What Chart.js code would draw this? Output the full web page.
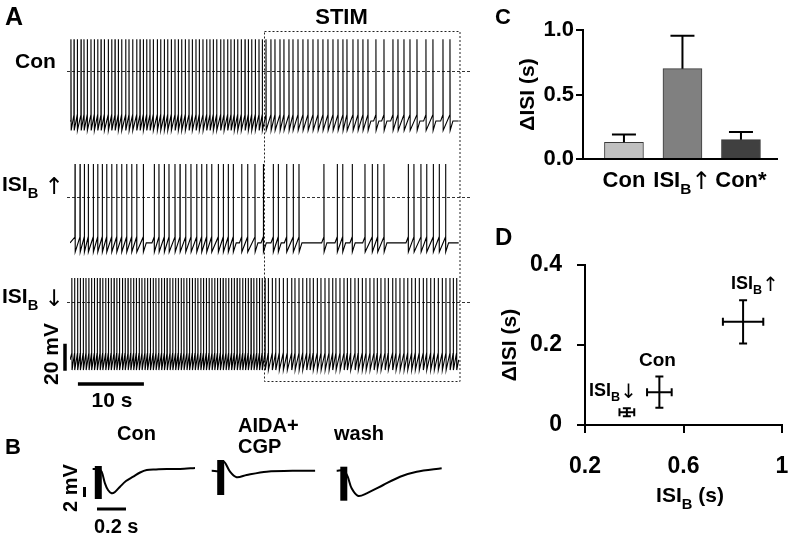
<!DOCTYPE html>
<html><head><meta charset="utf-8">
<script src="https://cdn.jsdelivr.net/npm/chart.js@4"></script>
<style>
html,body{margin:0;padding:0;background:#fff;}
#fig{position:relative;width:810px;height:542px;overflow:hidden;font-family:"Liberation Sans",Arial,Helvetica,sans-serif;font-weight:bold;color:#000;}
#fig canvas{position:absolute;}
.lbl{position:absolute;line-height:1;white-space:nowrap;}
.sub{font-size:0.7em;position:relative;top:0.45em;}
.arr{font-family:"DejaVu Sans",sans-serif;font-weight:normal;font-size:1.1em;position:relative;top:0.1em;}
</style></head>
<body><div id="fig">
<canvas id="cA" width="480" height="420" style="left:0px;top:0px"></canvas>
<canvas id="cB" width="400" height="92" style="left:60px;top:450px"></canvas>
<canvas id="cC" width="340" height="200" style="left:470px;top:0px"></canvas>
<canvas id="cD" width="340" height="322" style="left:470px;top:220px"></canvas>
</div>
<script>
// ---------------- DATA ----------------
// Panel A: spike times (s)
const stimStart = 29.4;
const traceEnd = 58.9;
const conSpikes = [0.15,0.61,1.11,1.67,2.12,2.62,3.18,3.68,4.20,4.70,5.20,5.80,6.32,6.82,7.32,7.83,8.44,8.94,9.50,10.11,10.61,11.11,11.62,12.12,12.62,13.23,13.74,14.29,14.80,15.35,15.91,16.41,16.92,17.47,18.03,18.53,19.09,19.59,20.15,20.71,21.21,21.71,22.23,22.83,23.33,23.89,24.39,24.89,25.41,25.95,26.52,27.02,27.53,28.08,28.64,29.14,29.70,30.45,31.06,31.82,32.42,33.18,33.79,34.55,35.30,36.06,36.82,37.58,38.33,39.09,39.85,40.61,41.36,41.97,42.88,43.64,44.39,45.15,46.36,47.58,48.94,49.70,50.61,51.52,52.58,53.94,55.00,56.52,57.58];
const isiUpSpikes = [0.76,1.52,2.17,2.77,3.53,4.20,4.89,5.56,6.32,7.08,7.83,8.59,9.35,10.11,11.11,12.77,13.48,14.29,15.00,15.91,16.67,17.53,18.33,19.20,19.95,20.71,21.47,22.47,23.23,23.98,24.74,26.02,26.92,28.03,29.30,30.80,31.56,32.83,33.83,34.70,38.48,40.50,41.32,42.77,44.70,45.80,46.62,47.58,51.26,52.12,53.18,54.05,55.05,55.95,56.92];
const isiDownSpikes = [0.28,0.70,1.15,1.56,2.01,2.42,2.86,3.27,3.70,4.13,4.55,4.96,5.41,5.82,6.24,6.68,7.09,7.50,7.95,8.36,8.79,9.21,9.64,10.05,10.49,10.90,11.34,11.75,12.18,12.61,13.02,13.45,13.88,14.30,14.71,15.15,15.57,16.00,16.41,16.85,17.26,17.70,18.11,18.54,18.97,19.38,19.82,20.23,20.66,21.08,21.51,21.93,22.35,22.78,23.20,23.63,24.04,24.48,24.89,25.32,25.74,26.17,26.59,27.01,27.44,27.86,28.29,28.71,29.12,29.55,30.05,30.65,31.17,31.71,32.32,32.92,33.59,34.09,34.70,35.26,35.86,36.36,36.86,37.47,38.03,38.64,39.24,39.80,40.30,40.91,41.52,42.02,42.53,43.18,43.68,44.29,44.85,45.45,46.06,46.56,47.12,47.73,48.23,48.89,49.39,50.00,50.61,51.17,51.77,52.32,52.92,53.53,54.05,54.65,55.20,55.80,56.41,56.97,57.58,58.08,58.59];
// membrane levels (mV): spike peak, threshold, after-hyperpolarisation, resting level in pauses
const conLevels  = {peak: 23.5, thr: -32.5, ahp: -44.0, rest: -37.0};
const upLevels   = {peak: 24.4, thr: -29.6, ahp: -40.7, rest: -34.0};
const downLevels = {peak: 17.8, thr: -38.0, ahp: -50.5, rest: -43.0};

// Panel B: averaged evoked responses (time ms, mV)
const conEvokedT  = [-39, 0, 23, 46, 67, 92, 115, 150, 191, 241, 288, 334, 398, 472, 564, 667];
const conEvokedV  = [0, 0, -0.54, -2.86, -4.2, -4.86, -4.6, -3.54, -2.4, -1.54, -0.7, -0.2, -0.1, 0, 0, 0.2];
const aidaEvokedT = [-62, 0, 23, 64, 110, 179, 317, 547, 651];
const aidaEvokedV = [-0.34, -0.34, 1.46, -0.54, -1.66, -1.2, -0.54, -0.34, -0.34];
const washEvokedT = [-49, 0, 27, 54, 100, 158, 272, 388, 503, 675];
const washEvokedV = [-0.34, -0.34, -1.54, -3.86, -5.4, -4.86, -3.2, -1.54, -0.54, 0.14];
const artifactTop    = [0.6, 1.8, 0.46];
const artifactBottom = [-6.0, -5.2, -6.34];

// Panel C
const cCats  = ['Con', 'ISI_{B}↑', 'Con*'];
const cMeans = [0.13, 0.70, 0.15];
const cErrs  = [0.06, 0.255, 0.06];
const cColors = ['#c0c0c0', '#808080', '#404040'];
const cYTickVals = [0, 0.5, 1.0];
const cYTicks = ['0.0', '0.5', '1.0'];

// Panel D
const dNames = ['Con', 'ISI_{B}↑', 'ISI_{B}↓'];
const dX    = [0.502, 0.842, 0.370];
const dXErr = [0.050, 0.082, 0.030];
const dY    = [0.082, 0.258, 0.032];
const dYErr = [0.039, 0.054, 0.010];
const dXTickVals = [0.2, 0.6, 1.0];
const dXTicks = ['0.2', '0.6', '1'];
const dYTickVals = [0, 0.2, 0.4];
const dYTicks = ['0', '0.2', '0.4'];

// ---------------- HELPERS ----------------
const FONT = '"Liberation Sans", Arial, Helvetica, sans-serif';
const ARROWFONT = '"DejaVu Sans", sans-serif';
Chart.defaults.font.family = FONT;
Chart.defaults.font.weight = 'bold';
Chart.defaults.color = '#000';

function parseRich(s){
  const raw=[]; const re=/_\{([^}]*)\}/g; let last=0, m;
  while((m=re.exec(s))){ if(m.index>last) raw.push({t:s.slice(last,m.index),kind:'n'}); raw.push({t:m[1],kind:'sub'}); last=re.lastIndex; }
  if(last<s.length) raw.push({t:s.slice(last),kind:'n'});
  const parts=[];
  raw.forEach(p=>{
    if(p.kind!=='n'){ parts.push(p); return; }
    p.t.split(/([↑↓])/).forEach(q=>{ if(!q) return; parts.push({t:q, kind:(q==='↑'||q==='↓')?'arr':'n'}); });
  });
  return parts;
}
function richHTML(s){ return parseRich(s).map(p=>p.kind==='sub'?'<span class="sub">'+p.t+'</span>':(p.kind==='arr'?'<span class="arr">'+p.t+'</span>':p.t)).join(''); }
function drawRich(ctx, s, cx, base, size){
  const parts=parseRich(s);
  const fonts=parts.map(p=> p.kind==='sub' ? 'bold '+(size*0.7)+'px '+FONT : (p.kind==='arr' ? (size*1.1)+'px '+ARROWFONT : 'bold '+size+'px '+FONT));
  const dy=parts.map(p=> p.kind==='sub' ? size*0.315 : (p.kind==='arr' ? size*0.11 : 0));
  let w=0; const ws=parts.map((p,i)=>{ctx.font=fonts[i]; const m=ctx.measureText(p.t).width; w+=m; return m;});
  let x=cx-w/2; ctx.textBaseline='alphabetic'; ctx.textAlign='left'; ctx.fillStyle='#000';
  parts.forEach((p,i)=>{ctx.font=fonts[i]; ctx.fillText(p.t,x,base+dy[i]); x+=ws[i];});
}
const fig=document.getElementById('fig');
function label(spec,x,base,size,opt){
  opt=opt||{};
  const d=document.createElement('div'); d.className='lbl'; d.innerHTML=richHTML(spec);
  d.style.fontSize=size+'px';
  if(opt.rotate){ d.style.left=x+'px'; d.style.top=base+'px'; d.style.transform='translate(-50%,-50%) rotate(-90deg)'; }
  else { d.style.left=x+'px'; d.style.top=(base-0.8465*size)+'px'; if(opt.center) d.style.transform='translateX(-50%)'; }
  fig.appendChild(d);
}
function buildTrace(spikes, lv, tEnd){
  const pts=[{x:0,y:lv.rest}];
  spikes.forEach((t,i)=>{
    const next = i+1<spikes.length ? spikes[i+1] : tEnd;
    pts.push({x:t-0.015,y:lv.thr});
    pts.push({x:t,y:lv.peak});
    pts.push({x:t+0.03,y:lv.ahp});
    if(next-t>1.2){ pts.push({x:t+0.45,y:lv.rest}); pts.push({x:next-0.35,y:lv.rest}); }
  });
  pts.push({x:tEnd,y:lv.rest});
  return pts;
}
function zip(t,v){ return t.map((x,i)=>({x:x,y:v[i]})); }
const baseOpts = {responsive:false, animation:false, events:[], plugins:{legend:{display:false}, tooltip:{enabled:false}}};

// ---------------- PANEL A ----------------
const plugA = {id:'plugA',
  beforeDatasetsDraw(chart){
    const {ctx, chartArea:ca, scales}=chart;
    ctx.save();
    ctx.setLineDash([3,2]); ctx.lineWidth=1; ctx.strokeStyle='#333';
    ['yCon','yUp','yDown'].forEach(id=>{const y=Math.round(scales[id].getPixelForValue(0))+0.5; ctx.beginPath(); ctx.moveTo(ca.left-3,y); ctx.lineTo(ca.right+10,y); ctx.stroke();});
    ctx.setLineDash([2,2]); ctx.strokeStyle='#222';
    const bx=Math.round(scales.x.getPixelForValue(stimStart))+0.5;
    ctx.strokeRect(bx, Math.round(ca.top)+0.5, Math.round(ca.right)-bx, Math.round(ca.bottom-ca.top));
    ctx.restore();
  },
  afterDraw(chart){
    const {ctx, chartArea:ca, scales}=chart;
    ctx.save(); ctx.strokeStyle='#000'; ctx.lineWidth=3.5; ctx.lineCap='butt';
    const yb=ca.bottom+3;
    ctx.beginPath(); ctx.moveTo(scales.x.getPixelForValue(1.2),yb); ctx.lineTo(scales.x.getPixelForValue(11.2),yb); ctx.stroke();
    const xb=ca.left-5;
    ctx.beginPath(); ctx.moveTo(xb,scales.yDown.getPixelForValue(-31)); ctx.lineTo(xb,scales.yDown.getPixelForValue(-51)); ctx.stroke();
    ctx.restore();
  }
};
new Chart(document.getElementById('cA'),{
  type:'line',
  data:{datasets:[
    {data:buildTrace(conSpikes,conLevels,traceEnd), yAxisID:'yCon'},
    {data:buildTrace(isiUpSpikes,upLevels,traceEnd), yAxisID:'yUp'},
    {data:buildTrace(isiDownSpikes,downLevels,traceEnd), yAxisID:'yDown'}
  ]},
  options:Object.assign({}, baseOpts, {
    layout:{padding:{left:70,right:20,top:31,bottom:39}},
    elements:{point:{radius:0}, line:{borderWidth:1.1, borderColor:'#000', tension:0, fill:false}},
    scales:{
      x:{type:'linear', min:0, max:59.1, display:false},
      yCon:{type:'linear', axis:'y', min:-229.6, max:29.6, display:false},
      yUp:{type:'linear', axis:'y', min:-136.3, max:123.0, display:false},
      yDown:{type:'linear', axis:'y', min:-58.6, max:200.7, display:false}
    }
  }),
  plugins:[plugA]
});

// ---------------- PANEL B ----------------
const plugB = {id:'plugB', afterDraw(chart){
  const {ctx, scales}=chart;
  ctx.save(); ctx.strokeStyle='#000'; ctx.lineWidth=3; ctx.lineCap='butt';
  const yb=scales.y.getPixelForValue(-8.0);
  ctx.beginPath(); ctx.moveTo(scales.xCon.getPixelForValue(-9),yb); ctx.lineTo(scales.xCon.getPixelForValue(191),yb); ctx.stroke();
  const xb=scales.xCon.getPixelForValue(-95);
  ctx.beginPath(); ctx.moveTo(xb,scales.y.getPixelForValue(-3.6)); ctx.lineTo(xb,scales.y.getPixelForValue(-5.6)); ctx.stroke();
  ctx.restore();
}};
const artDs = (i,axis)=>({data:[{x:0,y:artifactTop[i]},{x:0,y:artifactBottom[i]}], xAxisID:axis, borderWidth:7, borderCapStyle:'butt'});
new Chart(document.getElementById('cB'),{
  type:'line',
  data:{datasets:[
    {data:zip(conEvokedT,conEvokedV), xAxisID:'xCon'},
    {data:zip(aidaEvokedT,aidaEvokedV), xAxisID:'xAida'},
    {data:zip(washEvokedT,washEvokedV), xAxisID:'xWash'},
    artDs(0,'xCon'), artDs(1,'xAida'), artDs(2,'xWash')
  ]},
  options:Object.assign({}, baseOpts, {
    layout:{padding:0},
    elements:{point:{radius:0}, line:{borderWidth:2, borderColor:'#000', tension:0.3, fill:false}},
    scales:{
      xCon:{type:'linear', axis:'x', min:-264.1, max:2494.5, display:false},
      xAida:{type:'linear', axis:'x', min:-1108.3, max:1650.3, display:false},
      xWash:{type:'linear', axis:'x', min:-1957.2, max:801.4, display:false},
      y:{type:'linear', min:-14.6, max:3.8, display:false}
    }
  }),
  plugins:[plugB]
});

// ---------------- PANEL C ----------------
const plugC = {id:'plugC',
  afterDatasetsDraw(chart){
    const {ctx, scales:{x,y}}=chart;
    ctx.save(); ctx.strokeStyle='#000'; ctx.lineWidth=2; ctx.lineCap='butt';
    cMeans.forEach((m,i)=>{
      const px=x.getPixelForValue(i), y1=y.getPixelForValue(m), y2=y.getPixelForValue(m+cErrs[i]);
      ctx.beginPath(); ctx.moveTo(px,y1); ctx.lineTo(px,y2); ctx.moveTo(px-12,y2); ctx.lineTo(px+12,y2); ctx.stroke();
    });
    ctx.restore();
  },
  afterDraw(chart){
    const {ctx, scales:{x}, chartArea:ca}=chart;
    ctx.save();
    cCats.forEach((c,i)=>drawRich(ctx,c,x.getPixelForValue(i),ca.bottom+28,22));
    ctx.restore();
  }
};
new Chart(document.getElementById('cC'),{
  type:'bar',
  data:{datasets:[{data:cMeans.map((v,i)=>({x:i,y:v})), backgroundColor:cColors, borderColor:'#3a3a3a', borderWidth:1, barThickness:39}]},
  options:Object.assign({}, baseOpts, {
    layout:{padding:{top:30,right:33,left:0,bottom:0}},
    scales:{
      x:{type:'linear', offset:false, min:-0.70, max:2.616, afterFit:s=>{s.height=41;}, ticks:{display:false}, grid:{display:false, offset:false}, border:{display:true,color:'#000',width:2}},
      y:{type:'linear', min:0, max:1, afterFit:s=>{s.width=113;},
         afterBuildTicks:s=>{s.ticks=cYTickVals.map(v=>({value:v}));},
         ticks:{callback:(v,i)=>cYTicks[i], font:{size:22,weight:'bold'}, color:'#000', padding:2},
         grid:{drawOnChartArea:false, drawTicks:true, tickLength:7, color:'#000', lineWidth:2},
         border:{color:'#000', width:2},
         title:{display:true, text:'ΔISI (s)', font:{size:21,weight:'bold'}, color:'#000', padding:{top:46,bottom:0}}}
    }
  }),
  plugins:[plugC]
});

// ---------------- PANEL D ----------------
const plugD = {id:'plugD', afterDatasetsDraw(chart){
  const {ctx, scales:{x,y}}=chart;
  ctx.save(); ctx.strokeStyle='#000'; ctx.lineWidth=2; ctx.lineCap='butt';
  dX.forEach((vx,i)=>{
    const px=x.getPixelForValue(vx), py=y.getPixelForValue(dY[i]);
    const x1=x.getPixelForValue(vx-dXErr[i]), x2=x.getPixelForValue(vx+dXErr[i]);
    const y1=y.getPixelForValue(dY[i]-dYErr[i]), y2=y.getPixelForValue(dY[i]+dYErr[i]);
    ctx.beginPath();
    ctx.moveTo(x1,py); ctx.lineTo(x2,py);
    ctx.moveTo(px,y1); ctx.lineTo(px,y2);
    ctx.moveTo(x1,py-4); ctx.lineTo(x1,py+4); ctx.moveTo(x2,py-4); ctx.lineTo(x2,py+4);
    ctx.moveTo(px-4,y1); ctx.lineTo(px+4,y1); ctx.moveTo(px-4,y2); ctx.lineTo(px+4,y2);
    ctx.stroke();
  });
  ctx.restore();
}};
new Chart(document.getElementById('cD'),{
  type:'scatter',
  data:{datasets:[{data:dX.map((vx,i)=>({x:vx,y:dY[i]})), pointRadius:0}]},
  options:Object.assign({}, baseOpts, {
    layout:{padding:{top:45,right:28,left:0,bottom:0}},
    scales:{
      x:{type:'linear', min:0.2, max:1.0, afterFit:s=>{s.height=117;},
         afterBuildTicks:s=>{s.ticks=dXTickVals.map(v=>({value:v}));},
         ticks:{callback:(v,i)=>dXTicks[i], font:{size:23,weight:'bold'}, color:'#000', padding:20, maxRotation:0},
         grid:{drawOnChartArea:false, drawTicks:true, tickLength:8, color:'#000', lineWidth:2},
         border:{color:'#000', width:2}},
      y:{type:'linear', min:0, max:0.4, afterFit:s=>{s.width=115;},
         afterBuildTicks:s=>{s.ticks=dYTickVals.map(v=>({value:v}));},
         ticks:{callback:(v,i)=>dYTicks[i], font:{size:23,weight:'bold'}, color:'#000', padding:15},
         grid:{drawOnChartArea:false, drawTicks:true, tickLength:8, color:'#000', lineWidth:2},
         border:{color:'#000', width:2},
         title:{display:true, text:'ΔISI (s)', font:{size:21,weight:'bold'}, color:'#000', padding:{top:28,bottom:0}}}
    }
  }),
  plugins:[plugD]
});

// ---------------- TEXT LABELS ----------------
label('A',5,25,25);
label('STIM',341.5,25,22,{center:true});
label('Con',15,68,21);
label('ISI_{B} ↑',2,190,21);
label('ISI_{B} ↓',2,302,21);
label('20 mV',50,354,21,{rotate:true});
label('10 s',112,407,21,{center:true});
label('B',5,455,22);
label('Con',117,440,20);
label('AIDA+',238,432,20);
label('CGP',238,453,20);
label('wash',334,440,20);
label('2 mV',70,488,20,{rotate:true});
label('0.2 s',94,533,20);
label('C',495,25,22);
label('D',495,245,24);
label(dNames[1],731,288,18);
label(dNames[0],639,366,19);
label(dNames[2],589,395,18);
label('ISI_{B} (s)',690,502,21,{center:true});
</script>
</body></html>
